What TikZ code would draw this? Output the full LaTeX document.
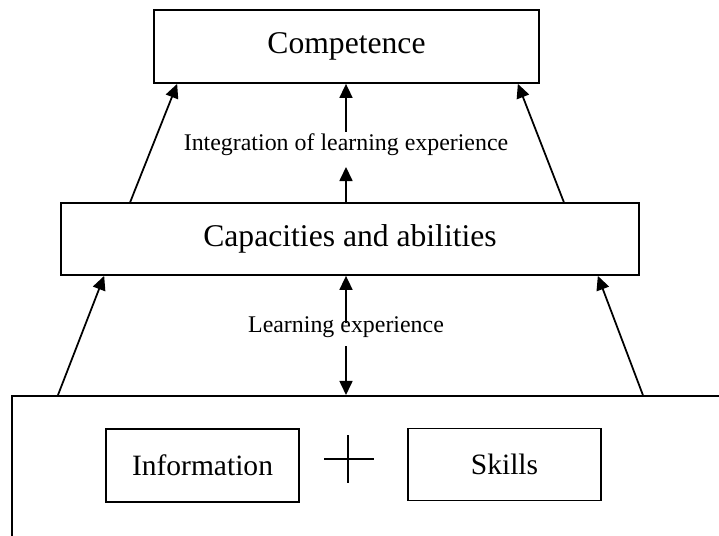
\documentclass[tikz,border=0pt]{standalone}
\usepackage{fontspec}
\setmainfont{Liberation Serif}
\usetikzlibrary{arrows.meta}

\begin{document}
\begin{tikzpicture}[x=0.02cm,y=0.02cm,
        box/.style={draw,line width=1pt,inner sep=0pt},
        arr/.style={line width=1pt,-{Triangle[length=8pt,width=7.4pt]}},
        lab/.style={inner sep=0pt,font=\fontsize{13.6}{16}\selectfont}]
        % Set picture frame
        \useasboundingbox (0,0) rectangle (719,535);
        \clip (0,0) rectangle (719,535);

        % Boxes
        \node[box,minimum width=7.7cm,minimum height=1.46cm,font=\fontsize{18}{22}\selectfont] (comp) at (346.5,488.5) {Competence};
        \node[box,minimum width=11.56cm,minimum height=1.44cm,font=\fontsize{18}{22}\selectfont] (cap) at (350,296) {Capacities and abilities};
        \node[box,anchor=north west,minimum width=15cm,minimum height=3cm] (base) at (11,140) {};
        \node[box,minimum width=3.86cm,minimum height=1.46cm,font=\fontsize{16.8}{20}\selectfont] (info) at (202.5,69.5) {Information};
        \node[box,minimum width=3.86cm,minimum height=1.44cm,font=\fontsize{16.8}{20}\selectfont] (skills) at (504.5,70.5) {Skills};

        % Plus sign
        \draw[line width=1pt] (324,76) -- (374,76) (348,100) -- (348,52);

        % Labels
        \node[lab] (intlab) at (346,390) {Integration of learning experience};
        \node[lab] (learnlab) at (346,208) {Learning experience};

        % Middle arrows
        \draw[arr] (cap.north -| intlab) -- ([yshift=-12.5pt]intlab.center);
        \draw[arr] ([yshift=7.4pt]intlab.center) -- (comp.south -| intlab);
        \draw[arr] ([yshift=2pt]learnlab.center) -- (cap.south -| learnlab);
        \draw[arr] ([yshift=-11pt]learnlab.center) -- (base.north -| learnlab);

        % Side arrows
        \draw[arr] ([xshift=0.94cm]base.north west) -- ([xshift=0.88cm]cap.south west);
        \draw[arr] ([xshift=12.64cm]base.north west) -- ([xshift=-0.84cm]cap.south east);
        \draw[arr] ([xshift=1.4cm]cap.north west) -- ([xshift=0.48cm]comp.south west);
        \draw[arr] ([xshift=-1.52cm]cap.north east) -- ([xshift=-0.44cm]comp.south east);

\end{tikzpicture}
\end{document}
